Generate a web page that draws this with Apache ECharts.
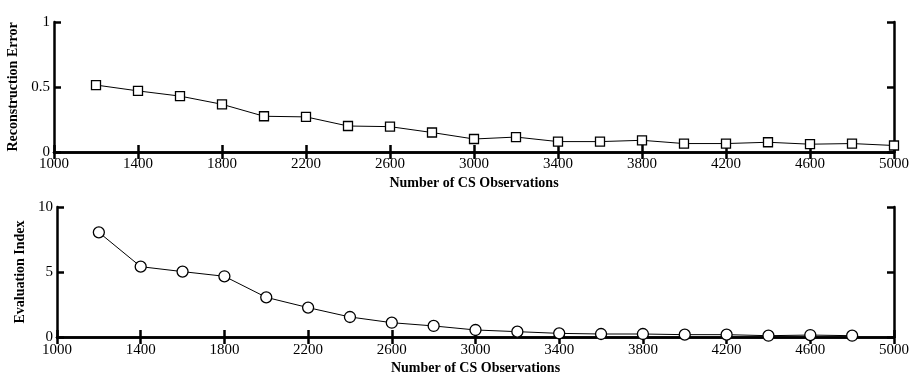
<!DOCTYPE html>
<html>
<head>
<meta charset="utf-8">
<script src="https://cdn.jsdelivr.net/npm/echarts@6/dist/echarts.min.js"></script>
<style>html,body{margin:0;padding:0;background:#fff;}#c{width:911px;height:375px;}</style>
</head>
<body>
<div id="c"></div>
<script>
const observations = [1200,1400,1600,1800,2000,2200,2400,2600,2800,3000,3200,3400,3600,3800,4000,4200,4400,4600,4800,5000];
const reconstructionError = [0.515,0.47,0.43,0.367,0.275,0.27,0.20,0.195,0.15,0.10,0.115,0.08,0.08,0.09,0.065,0.065,0.075,0.06,0.065,0.05];
const observationsEval = [1200,1400,1600,1800,2000,2200,2400,2600,2800,3000,3200,3400,3600,3800,4000,4200,4400,4600,4800];
const evaluationIndex = [8.05,5.41,5.03,4.67,3.05,2.26,1.54,1.10,0.85,0.54,0.41,0.28,0.23,0.23,0.18,0.18,0.10,0.15,0.10];
const xTitle = 'Number of CS Observations';
const yTitleTop = 'Reconstruction Error';
const yTitleBottom = 'Evaluation Index';

const FONT = '"Liberation Serif", "Times New Roman", serif';
const lineStyle = {color:'#000', width:2.5};
const tickStyle = {inside:true, length:7, lineStyle:{color:'#000', width:2.5}};

function xAxes(gi, margin, gap) {
  return [
    {type:'value', gridIndex:gi, position:'bottom', min:1000, max:5000, interval:400,
     axisLine:{show:true, lineStyle}, axisTick:tickStyle, splitLine:{show:false},
     axisLabel:{color:'#000', fontFamily:FONT, fontSize:15, margin:margin, formatter:v=>String(v)},
     name:xTitle, nameLocation:'middle', nameGap:gap,
     nameTextStyle:{color:'#000', fontFamily:FONT, fontSize:14, fontWeight:'bold'}},
    {type:'value', gridIndex:gi, position:'top', min:1000, max:5000, interval:400,
     axisLine:{show:true, lineStyle}, axisTick:tickStyle, splitLine:{show:false},
     axisLabel:{show:false}}
  ];
}
function yAxes(gi, max, interval, title, gap) {
  return [
    {type:'value', gridIndex:gi, position:'left', min:0, max:max, interval:interval,
     axisLine:{show:true, lineStyle}, axisTick:tickStyle, splitLine:{show:false},
     axisLabel:{color:'#000', fontFamily:FONT, fontSize:15, margin:4, formatter:v=>String(v)},
     name:title, nameLocation:'middle', nameGap:gap, nameRotate:90,
     nameTextStyle:{color:'#000', fontFamily:FONT, fontSize:14, fontWeight:'bold'}},
    {type:'value', gridIndex:gi, position:'right', min:0, max:max, interval:interval,
     axisLine:{show:true, lineStyle}, axisTick:tickStyle, splitLine:{show:false},
     axisLabel:{show:false}}
  ];
}

const chart = echarts.init(document.getElementById('c'), null, {renderer:'canvas'});
chart.setOption({
  backgroundColor:'#fff',
  animation:false,
  grid:[
    {left:54, right:17, top:22, height:130, outerBoundsMode:'none', containLabel:false},
    {left:57, right:17, top:207, height:130, outerBoundsMode:'none', containLabel:false}
  ],
  xAxis:[...xAxes(0, 5, 24), ...xAxes(1, 6, 24)],
  yAxis:[...yAxes(0, 1, 0.5, yTitleTop, 27), ...yAxes(1, 10, 5, yTitleBottom, 24)],
  series:[
    {type:'line', xAxisIndex:0, yAxisIndex:0,
     data:observations.map((x,i)=>[x, reconstructionError[i]]),
     symbol:'rect', symbolSize:9,
     lineStyle:{color:'#000', width:1},
     itemStyle:{color:'#fff', borderColor:'#000', borderWidth:1.3}},
    {type:'line', xAxisIndex:2, yAxisIndex:2,
     data:observationsEval.map((x,i)=>[x, evaluationIndex[i]]),
     symbol:'circle', symbolSize:11,
     lineStyle:{color:'#000', width:1},
     itemStyle:{color:'#fff', borderColor:'#000', borderWidth:1.3}}
  ]
});
</script>
</body>
</html>
